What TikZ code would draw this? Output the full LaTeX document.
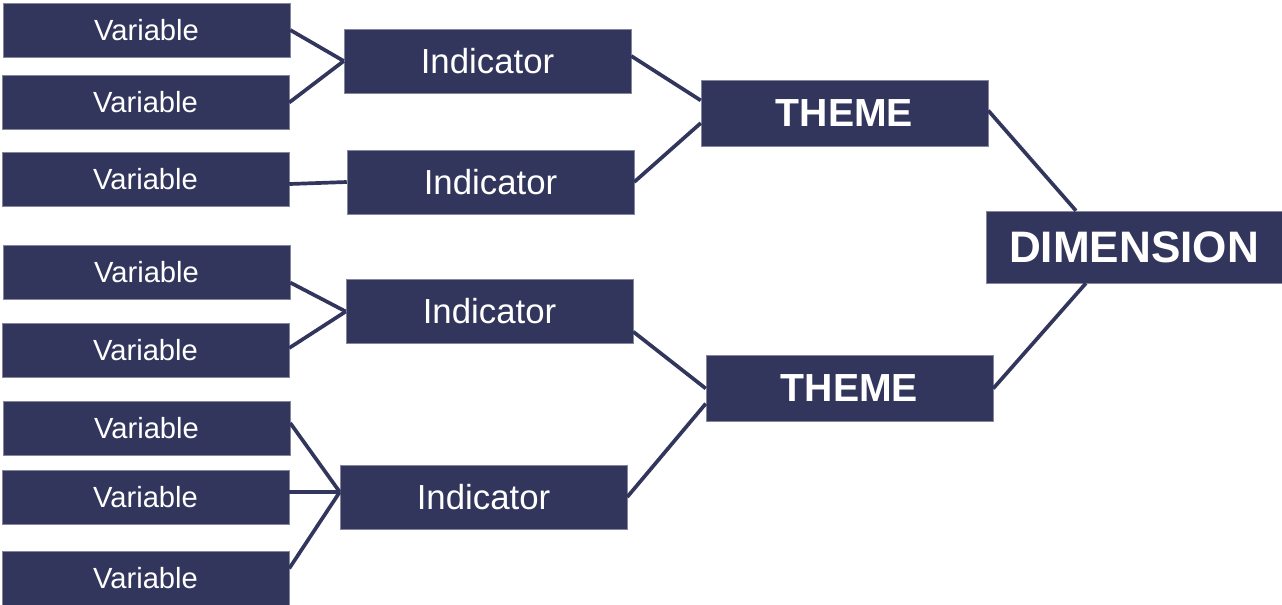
\documentclass[tikz,border=0pt]{standalone}
\usepackage{fontspec}
\setmainfont{Liberation Sans}
\usetikzlibrary{positioning}
\definecolor{boxnavy}{HTML}{33365C}

\begin{document}
\begin{tikzpicture}
  [x=0.02cm,y=-0.02cm,-,line width=2.1pt,
	var node/.style={rectangle,fill=boxnavy,draw=boxnavy!60!white,line width=0.3pt,
  text=white,font=\fontsize{16.6}{20}\selectfont,minimum width=5.74cm,minimum height=1.08cm},
	ind node/.style={var node,font=\fontsize{19.8}{24}\selectfont,minimum height=1.28cm},
	theme node/.style={var node,font=\fontsize{22.3}{27}\selectfont\bfseries,minimum height=1.32cm},
	dim node/.style={var node,font=\fontsize{25.1}{30}\selectfont\bfseries,
  minimum width=5.92cm,minimum height=1.44cm}]

  \useasboundingbox (0,0) rectangle (1282,605);

  \node[var node] (v1) at (146.5,30) {Variable};
  \node[var node] (v2) at (145.5,102.5) {Variable};
  \node[var node] (v3) at (145.5,179) {Variable};
  \node[var node] (v4) at (146.5,272.5) {Variable};
  \node[var node] (v5) at (145.5,350.5) {Variable};
  \node[var node] (v6) at (146.5,428) {Variable};
  \node[var node] (v7) at (145.5,497) {Variable};
  \node[var node] (v8) at (145.5,578.5) {Variable};

  \node[ind node] (ind1) at (487.5,61) {Indicator};
  \node[ind node] (ind2) at (490.5,182) {Indicator};
  \node[ind node] (ind3) at (489.5,311.5) {Indicator};
  \node[ind node] (ind4) at (483.5,497) {Indicator};

  \node[theme node] (th1) at (844.5,113) {THEME};
  \node[theme node] (th2) at (849.5,388.5) {THEME};

  \node[dim node] (dim) at (1134,247) {DIMENSION};

  \path[draw=boxnavy]
    (v1.east) edge (ind1.west)
    (v2.east) edge (ind1.west)
    (v3.-2) edge (ind2.west)
    (v4.-4) edge (ind3.west)
    (v5.1) edge (ind3.west)
    (v6.2) edge (ind4.178)
    (v7.2) edge (ind4.178)
    (v8.4) edge (ind4.178)
    (ind1.2) edge (th1.175)
    (ind2.east) edge (th1.184)
    (ind3.-8) edge (th2.west)
    (ind4.east) edge (th2.186)
    (th1.1) edge (dim.148)
    (th2.east) edge (dim.217);
\end{tikzpicture}
\end{document}
